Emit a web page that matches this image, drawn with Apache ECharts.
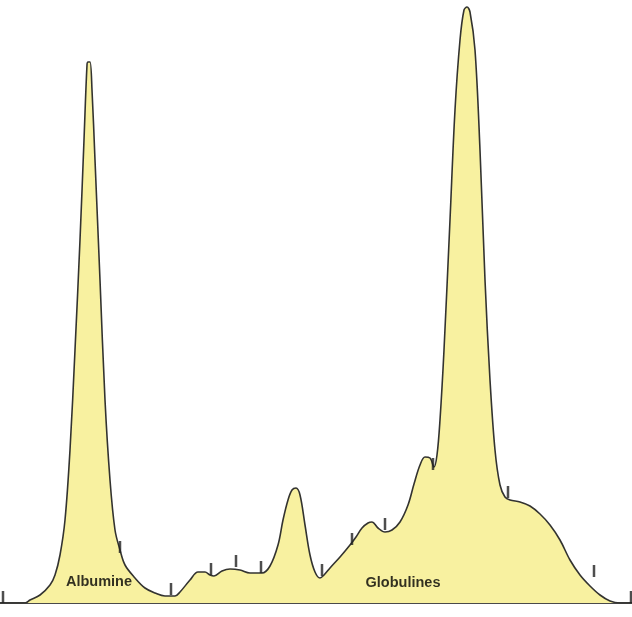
<!DOCTYPE html>
<html>
<head>
<meta charset="utf-8">
<script src="https://cdn.jsdelivr.net/npm/echarts@6/dist/echarts.min.js"></script>
<style>html,body{margin:0;padding:0;background:#fff}#c{width:632px;height:617px}</style>
</head>
<body>
<div id="c"></div>
<script>
// Densitometric electrophoresis profile: migration position vs. optical density
const position = [0,25,30,40,50,55,60,65,70,75,80,84,87,88,90,92,95,100,105,110,115,120,125,135,145,155,165,175,180,190,198,205,210,214,222,230,240,250,262,270,278,283,288,292,296,300,305,310,315,320,324,330,340,350,356,362,368,372,378,385,392,400,408,414,420,425,430,434,437,440,444,450,455,460,464,467,470,475,480,485,490,495,500,505,510,520,530,540,550,560,570,580,590,600,610,620,632];
const density  = [0,0,3,8,18,28,48,83,153,253,363,463,538,541,541,513,443,323,203,123,73,53,38,25,15,10,7,7,11,23,31,31,28,27,32,34,33,30,30,37,58,83,103,113,115,108,78,48,31,25,28,35,46,58,66,75,80,81,75,71,73,81,98,119,138,146,145,136,148,183,253,383,493,563,593,596,591,553,453,323,223,153,118,106,103,101,97,89,78,63,43,28,17,8,2,0,0];
// fraction boundary marks (position, density at mark foot)
const markPos = [3,120,171,211,236,261,322,352,385,433,508,594,631];
const markVal = [0,50,8,28,36,30,27,58,73,133,105,26,0];
// fraction labels
const labelNames = ['Albumine','Globulines'];
const labelPos = [99,403];
const labelVal = [21,20];

const chart = echarts.init(document.getElementById('c'));
chart.setOption({
  animation:false,
  backgroundColor:'#ffffff',
  grid:{left:0,right:0,top:0,bottom:14},
  xAxis:{type:'value',min:0,max:632,axisLine:{show:true,onZero:false,lineStyle:{color:'#4a4a4a',width:2}},axisTick:{show:false},axisLabel:{show:false},splitLine:{show:false}},
  yAxis:{type:'value',min:0,max:603,show:false,splitLine:{show:false}},
  series:[
    {type:'line',data:position.map((p,i)=>[p,density[i]]),smooth:0.35,symbol:'none',
     lineStyle:{color:'#333330',width:1.6},areaStyle:{color:'#f8f1a0',opacity:1},z:2},
    {type:'scatter',data:markPos.map((p,i)=>[p,markVal[i]]),symbol:'rect',symbolSize:[2.5,12],symbolOffset:[0,-6],
     itemStyle:{color:'#222222'},z:3},
    {type:'scatter',data:labelPos.map((p,i)=>[p,labelVal[i],labelNames[i]]),symbolSize:0,z:4,
     label:{show:true,position:'inside',formatter:d=>d.data[2],color:'#000000',textBorderWidth:0,fontFamily:'Liberation Sans, Arial, sans-serif',fontWeight:'bold',fontSize:14.5}}
  ]
});
</script>
</body>
</html>
